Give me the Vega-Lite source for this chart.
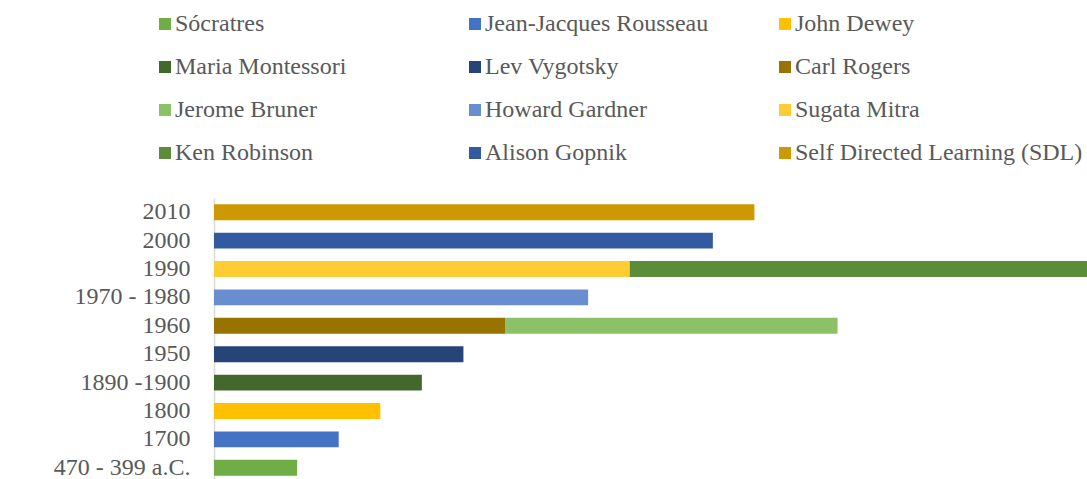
{
  "$schema": "https://vega.github.io/schema/vega-lite/v6.json",
  "width": 873,
  "height": 284,
  "autosize": {"type": "none"},
  "padding": {"left": 214, "top": 198, "right": 0, "bottom": 0},
  "background": "white",
  "config": {"view": {"stroke": null}, "font": "Liberation Serif"},
  "data": {
    "values": [
      {"period": "470 - 399 a.C.", "name": "Sócratres", "value": 2, "idx": 1},
      {"period": "1700", "name": "Jean-Jacques Rousseau", "value": 3, "idx": 2},
      {"period": "1800", "name": "John Dewey", "value": 4, "idx": 3},
      {"period": "1890 -1900", "name": "Maria Montessori", "value": 5, "idx": 4},
      {"period": "1950", "name": "Lev Vygotsky", "value": 6, "idx": 5},
      {"period": "1960", "name": "Carl Rogers", "value": 7, "idx": 6},
      {"period": "1960", "name": "Jerome Bruner", "value": 8, "idx": 7},
      {"period": "1970 - 1980", "name": "Howard Gardner", "value": 9, "idx": 8},
      {"period": "1990", "name": "Sugata Mitra", "value": 10, "idx": 9},
      {"period": "1990", "name": "Ken Robinson", "value": 11, "idx": 10},
      {"period": "2000", "name": "Alison Gopnik", "value": 12, "idx": 11},
      {"period": "2010", "name": "Self Directed Learning (SDL)", "value": 13, "idx": 12}
    ]
  },
  "mark": {"type": "bar"},
  "encoding": {
    "y": {
      "field": "period",
      "type": "nominal",
      "sort": ["2010", "2000", "1990", "1970 - 1980", "1960", "1950", "1890 -1900", "1800", "1700", "470 - 399 a.C."],
      "scale": {"paddingInner": 0.44, "paddingOuter": 0.22},
      "axis": {
        "title": null,
        "ticks": false,
        "tickSize": 0,
        "labelPadding": 24,
        "labelFont": "Liberation Serif",
        "labelFontSize": 24,
        "labelColor": "#595959",
        "labelLimit": 300,
        "domainColor": "#D9D9D9",
        "domainWidth": 1.5,
        "grid": false
      }
    },
    "x": {
      "field": "value",
      "type": "quantitative",
      "stack": "zero",
      "scale": {"domain": [0, 21], "nice": false, "zero": true},
      "axis": null
    },
    "color": {
      "field": "name",
      "type": "nominal",
      "scale": {
        "domain": ["Sócratres", "Jean-Jacques Rousseau", "John Dewey", "Maria Montessori", "Lev Vygotsky", "Carl Rogers", "Jerome Bruner", "Howard Gardner", "Sugata Mitra", "Ken Robinson", "Alison Gopnik", "Self Directed Learning (SDL)"],
        "range": ["#70AD47", "#4472C4", "#FFC000", "#43682B", "#264478", "#997300", "#8CC168", "#698ED0", "#FFCD33", "#5B8C3A", "#335AA1", "#CC9A00"]
      },
      "legend": {
        "title": null,
        "orient": "none",
        "legendX": -61,
        "legendY": -186,
        "columns": 3,
        "direction": "horizontal",
        "gridAlign": "all",
        "columnPadding": -4,
        "rowPadding": 19,
        "padding": 0,
        "symbolType": "square",
        "symbolSize": 144,
        "symbolStrokeWidth": 0,
        "symbolOpacity": 1,
        "labelFont": "Liberation Serif",
        "labelFontSize": 24,
        "labelColor": "#595959",
        "labelOffset": -2,
        "labelLimit": 400
      }
    },
    "order": {"field": "idx", "type": "quantitative"}
  }
}
